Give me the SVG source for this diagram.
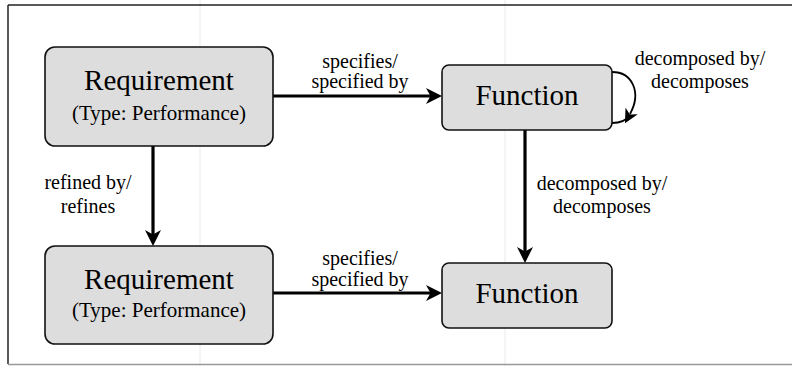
<svg xmlns="http://www.w3.org/2000/svg" width="792" height="366" viewBox="0 0 792 366">
<style>
.box{fill:#dddddd;stroke:#111;stroke-width:1.6}
.edge{fill:none;stroke:#000;stroke-width:3.2}
.loop{fill:none;stroke:#000;stroke-width:1.8}
.seam{stroke:#e4e4e4;stroke-width:0.8}
</style>
<defs>
<marker id="arr" markerUnits="userSpaceOnUse" viewBox="0 0 16 16" refX="10" refY="8" markerWidth="16" markerHeight="16" orient="auto">
<path d="M0,0 L16,8 L0,16 L4.5,8 Z" fill="#000"/>
</marker>
<marker id="arrs" markerUnits="userSpaceOnUse" viewBox="0 0 16 16" refX="4" refY="8" markerWidth="14" markerHeight="14" orient="auto">
<path d="M0,0 L16,8 L0,16 L4.5,8 Z" fill="#000"/>
</marker>
</defs>
<rect width="792" height="366" fill="#fff"/>
<g id="frame">
<line class="seam" x1="200" y1="0" x2="200" y2="366"/>
<line class="seam" x1="505" y1="0" x2="505" y2="366"/>
<line x1="8" y1="5" x2="792" y2="5" stroke="#222" stroke-width="1.5"/>
<line x1="8" y1="5" x2="8" y2="364" stroke="#222" stroke-width="1.5"/>
<line x1="8" y1="364.5" x2="792" y2="364.5" stroke="#999" stroke-width="1.5"/>
</g>
<g id="connectors">
<line class="edge" x1="273" y1="96" x2="436" y2="96" marker-end="url(#arr)"/>
<line class="edge" x1="273" y1="293" x2="436" y2="293" marker-end="url(#arr)"/>
<line class="edge" x1="153" y1="146" x2="153" y2="240" marker-end="url(#arr)"/>
<line class="edge" x1="525" y1="130" x2="525" y2="257" marker-end="url(#arr)"/>
<path class="loop" d="M612,72 C632,72 642,92 630,114" marker-end="url(#arrs)"/>
<path class="loop" d="M612,123 C620,123 626,121 630,115"/>
<text x="360" y="68" font-family="Liberation Serif" font-size="20" text-anchor="middle">specifies/</text>
<text x="360" y="88" font-family="Liberation Serif" font-size="20" text-anchor="middle">specified by</text>
<text x="360" y="265" font-family="Liberation Serif" font-size="20" text-anchor="middle">specifies/</text>
<text x="360" y="286" font-family="Liberation Serif" font-size="20" text-anchor="middle">specified by</text>
<text x="88" y="189" font-family="Liberation Serif" font-size="20" text-anchor="middle">refined by/</text>
<text x="88" y="213" font-family="Liberation Serif" font-size="20" text-anchor="middle">refines</text>
<text x="602" y="190" font-family="Liberation Serif" font-size="20" text-anchor="middle">decomposed by/</text>
<text x="602" y="213" font-family="Liberation Serif" font-size="20" text-anchor="middle">decomposes</text>
<text x="700" y="65" font-family="Liberation Serif" font-size="20" text-anchor="middle">decomposed by/</text>
<text x="700" y="88" font-family="Liberation Serif" font-size="20" text-anchor="middle">decomposes</text>
</g>
<g id="req1">
<rect class="box" x="45" y="47" width="228" height="99" rx="10"/>
<text x="159" y="90" font-family="Liberation Serif" font-size="29" text-anchor="middle">Requirement</text>
<text x="159" y="120" font-family="Liberation Serif" font-size="21" text-anchor="middle">(Type: Performance)</text>
</g>
<g id="req2">
<rect class="box" x="45" y="246" width="228" height="98" rx="10"/>
<text x="159" y="289" font-family="Liberation Serif" font-size="29" text-anchor="middle">Requirement</text>
<text x="159" y="317" font-family="Liberation Serif" font-size="21" text-anchor="middle">(Type: Performance)</text>
</g>
<g id="func1">
<rect class="box" x="442" y="65" width="170" height="65" rx="7"/>
<text x="527" y="105" font-family="Liberation Serif" font-size="29" text-anchor="middle">Function</text>
</g>
<g id="func2">
<rect class="box" x="442" y="263" width="170" height="65" rx="7"/>
<text x="527" y="303" font-family="Liberation Serif" font-size="29" text-anchor="middle">Function</text>
</g>
</svg>
